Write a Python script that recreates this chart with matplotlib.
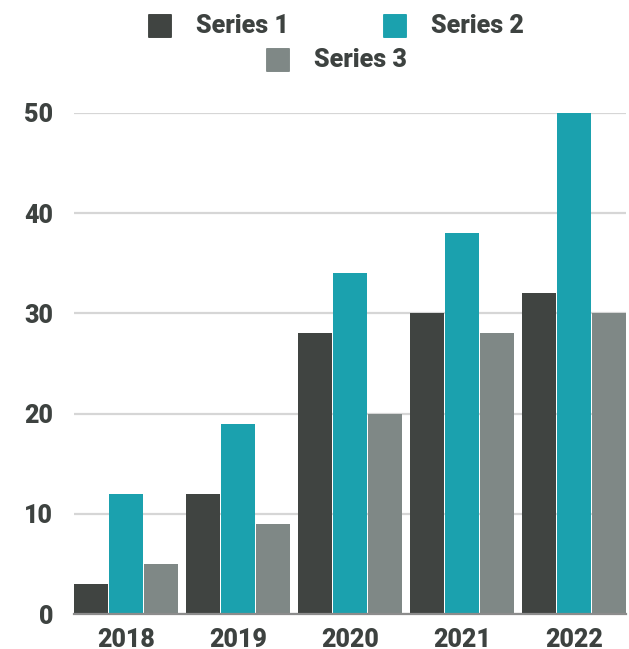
import numpy as np
import matplotlib.pyplot as plt
from matplotlib.patches import FancyBboxPatch

years = ['2018', '2019', '2020', '2021', '2022']
series_names = ['Series 1', 'Series 2', 'Series 3']
series1 = [3, 12, 28, 30, 32]
series2 = [12, 19, 34, 38, 50]
series3 = [5, 9, 20, 28, 30]
colors = ['#404441', '#1ba1ae', '#7f8886']
text_color = '#3d4240'

plt.rcParams['font.family'] = ['Roboto', 'DejaVu Sans']

fig = plt.figure(figsize=(6.29, 6.49), dpi=100)
ax = fig.add_axes([74 / 629, 35 / 649, 552 / 629, 501 / 649])

x = np.arange(len(years))
bw = 0.30
step = 0.3125
for j, vals in enumerate([series1, series2, series3]):
    ax.bar(x + (j - 1) * step, vals, width=bw, color=colors[j], zorder=3, clip_on=False)

ax.set_xlim(-0.464, 4.464)
ax.set_ylim(0, 50)
ax.set_yticks([0, 10, 20, 30, 40, 50])
ax.set_xticks(x)
ax.set_xticklabels(years)

ax.grid(axis='y', color='#d6d6d6', linewidth=1.6, zorder=0)
ax.set_axisbelow(True)
for s in ['top', 'right', 'left']:
    ax.spines[s].set_visible(False)
ax.spines['bottom'].set_color('#8c8c8c')
ax.spines['bottom'].set_linewidth(1.6)
ax.spines['bottom'].set_zorder(4)

fs = 18
ax.tick_params(axis='both', length=0, labelsize=fs, labelcolor=text_color)
ax.tick_params(axis='y', pad=15)
ax.tick_params(axis='x', pad=10)
for lab in ax.get_xticklabels() + ax.get_yticklabels():
    lab.set_fontweight(900)

# legend (manual, two rows, centered)
legend_pos = [(148, 26), (383, 26), (266, 60)]
for (px, py), name, c in zip(legend_pos, series_names, colors):
    sq = FancyBboxPatch(((px + 1) / 629, 1 - (py + 11) / 649), 22 / 629, 22 / 649,
                        boxstyle='round,pad=0.0015', transform=fig.transFigure,
                        facecolor=c, edgecolor='none')
    fig.add_artist(sq)
    fig.text((px + 48) / 629, 1 - py / 649, name, fontsize=fs, fontweight=900,
             color=text_color, va='center', ha='left')

fig.savefig('out.png', dpi=100)
